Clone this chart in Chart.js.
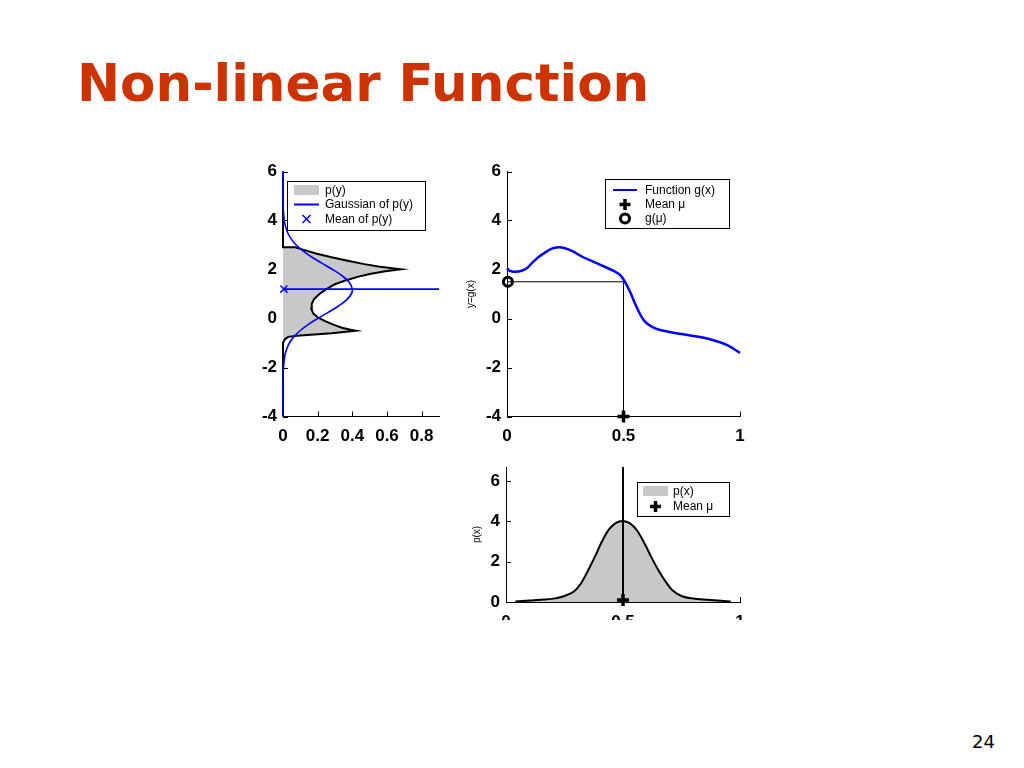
<!DOCTYPE html>
<html><head><meta charset="utf-8">
<script src="https://cdn.jsdelivr.net/npm/chart.js@4"></script>
<style>
html,body{margin:0;padding:0;background:#fff;width:1024px;height:768px;overflow:hidden;position:relative;}
#title{position:absolute;left:77px;top:58px;font-family:"DejaVu Sans";font-weight:bold;font-size:51.5px;line-height:51px;color:#cc3300;white-space:nowrap;}
#page{position:absolute;left:972px;top:733px;font-family:"DejaVu Sans";font-size:18px;line-height:18px;color:#000;}
.box{position:absolute;overflow:hidden;}
canvas{display:block;}
</style></head><body>
<div id="title">Non-linear Function</div>
<div id="page">24</div>
<div class="box" style="left:220px;top:150px;width:240px;height:300px"><canvas id="c1" width="240" height="300"></canvas></div>
<div class="box" style="left:460px;top:150px;width:300px;height:300px"><canvas id="c2" width="300" height="300"></canvas></div>
<div class="box" style="left:460px;top:450px;width:300px;height:170px"><canvas id="c3" width="300" height="170"></canvas></div>
<script>
// ---------- data: left plot, p(y) ----------
const pyY = [-4, -1.0, -0.85, -0.75, -0.7, -0.65, -0.6, -0.55, -0.5, -0.46, -0.38, -0.25, -0.1, 0.05, 0.2, 0.4, 0.6, 0.8, 1.0, 1.2, 1.4, 1.55, 1.7, 1.82, 1.93, 2.01, 2.05, 2.12, 2.22, 2.35, 2.5, 2.65, 2.82, 2.91, 2.91, 6];
const pyP = [0, 0, 0.01, 0.03, 0.08, 0.18, 0.28, 0.35, 0.42, 0.39, 0.34, 0.29, 0.24, 0.20, 0.175, 0.163, 0.166, 0.18, 0.21, 0.25, 0.30, 0.36, 0.43, 0.50, 0.59, 0.68, 0.63, 0.55, 0.47, 0.38, 0.28, 0.19, 0.11, 0.07, 0, 0];
const gaussY = [-4, -3, -2.5, -2, -1.5, -1.25, -1, -0.75, -0.5, -0.25, 0, 0.25, 0.5, 0.75, 1, 1.2, 1.5, 1.75, 2, 2.25, 2.5, 2.75, 3, 3.25, 3.5, 3.75, 4, 4.5, 5, 6];
const gaussP = [0, 0.0001, 0.0005, 0.0025, 0.011, 0.021, 0.037, 0.062, 0.098, 0.144, 0.2, 0.26, 0.318, 0.365, 0.394, 0.4, 0.38, 0.34, 0.286, 0.226, 0.167, 0.117, 0.076, 0.047, 0.027, 0.015, 0.0075, 0.0016, 0.0003, 0];
const meanY = 1.2;
const xTicks1 = [0, 0.2, 0.4, 0.6, 0.8];
const yTicks1 = [-4, -2, 0, 2, 4, 6];

// ---------- data: right top, g(x) ----------
const gX = [0, 0.013, 0.034, 0.063, 0.085, 0.106, 0.134, 0.163, 0.192, 0.22, 0.249, 0.285, 0.327, 0.37, 0.413, 0.456, 0.485, 0.506, 0.528, 0.549, 0.571, 0.592, 0.621, 0.657, 0.714, 0.8, 0.871, 0.943, 1.0];
const gY = [2.05, 1.94, 1.91, 1.95, 2.05, 2.25, 2.5, 2.69, 2.85, 2.91, 2.87, 2.73, 2.5, 2.32, 2.14, 1.95, 1.78, 1.5, 1.09, 0.62, 0.18, -0.13, -0.33, -0.47, -0.58, -0.71, -0.85, -1.08, -1.4];
const muX = 0.5;
const gMu = 1.5;
const xTicks2 = [0, 0.5, 1];
const yTicks2 = [-4, -2, 0, 2, 4, 6];

// ---------- data: right bottom, p(x) ----------
const pxX = [0.04, 0.10, 0.16, 0.21, 0.25, 0.29, 0.32, 0.35, 0.38, 0.41, 0.44, 0.47, 0.50, 0.53, 0.56, 0.59, 0.62, 0.65, 0.68, 0.71, 0.75, 0.80, 0.86, 0.92, 0.96];
const pxP = [0.02, 0.07, 0.12, 0.18, 0.30, 0.52, 0.92, 1.55, 2.25, 3.0, 3.6, 3.93, 4.02, 3.9, 3.55, 2.95, 2.25, 1.6, 1.05, 0.6, 0.3, 0.17, 0.11, 0.06, 0.02];
const pxTop = 6.7;
const xTicks3 = [0, 0.5, 1];
const yTicks3 = [0, 2, 4, 6];

const pts = (xs, ys) => xs.map((v, i) => ({x: v, y: ys[i]}));
const BLUE = '#0000ff', GRAY = '#c8c8c8';
const tickFont = {family: 'Liberation Sans', size: 17, weight: 'bold'};

// inner tick marks plugin
const innerTicks = {
  id: 'innerTicks',
  beforeDatasetsDraw(chart, args, o) {
    const {ctx, chartArea: a} = chart;
    const xs = chart.scales.x, ys = chart.scales.y;
    ctx.save(); ctx.strokeStyle = '#000'; ctx.lineWidth = 1;
    (o.x || []).forEach(v => { const p = Math.round(xs.getPixelForValue(v)) + 0.5; ctx.beginPath(); ctx.moveTo(p, a.bottom); ctx.lineTo(p, a.bottom - 5); ctx.stroke(); });
    (o.y || []).forEach(v => { const p = Math.round(ys.getPixelForValue(v)) + 0.5; ctx.beginPath(); ctx.moveTo(a.left, p); ctx.lineTo(a.left + 5, p); ctx.stroke(); });
    ctx.restore();
  }
};

// boxed legend plugin
const boxLegend = {
  id: 'boxLegend',
  afterDraw(chart, args, o) {
    if (!o || !o.items) return;
    const ctx = chart.ctx;
    const [x1, y1, x2, y2] = o.box;
    ctx.save();
    ctx.fillStyle = '#fff'; ctx.fillRect(x1, y1, x2 - x1, y2 - y1);
    ctx.strokeStyle = '#000'; ctx.lineWidth = 1; ctx.strokeRect(x1 + 0.5, y1 + 0.5, x2 - x1, y2 - y1);
    ctx.font = '12px "Liberation Sans"'; ctx.textBaseline = 'middle'; ctx.textAlign = 'left';
    o.items.forEach(it => {
      const ds = chart.data.datasets[it.ds];
      const cx = o.symX + o.symW / 2, y = it.y;
      if (it.type === 'patch') {
        ctx.fillStyle = GRAY; ctx.fillRect(o.symX, y - 5, o.symW, 10);
      } else if (it.type === 'line') {
        ctx.strokeStyle = ds.borderColor; ctx.lineWidth = 2;
        ctx.beginPath(); ctx.moveTo(o.symX, y); ctx.lineTo(o.symX + o.symW, y); ctx.stroke();
      } else if (it.type === 'crossRot') {
        ctx.strokeStyle = ds.borderColor; ctx.lineWidth = 1.5; const r = 4;
        ctx.beginPath(); ctx.moveTo(cx - r, y - r); ctx.lineTo(cx + r, y + r); ctx.moveTo(cx - r, y + r); ctx.lineTo(cx + r, y - r); ctx.stroke();
      } else if (it.type === 'cross') {
        ctx.strokeStyle = '#000'; ctx.lineWidth = 3.5; const r = 5.5;
        ctx.beginPath(); ctx.moveTo(cx - r, y); ctx.lineTo(cx + r, y); ctx.moveTo(cx, y - r); ctx.lineTo(cx, y + r); ctx.stroke();
      } else if (it.type === 'circle') {
        ctx.strokeStyle = '#000'; ctx.lineWidth = 3; ctx.beginPath(); ctx.arc(cx, y, 4.5, 0, Math.PI * 2); ctx.stroke();
      }
      ctx.fillStyle = '#000'; ctx.fillText(ds.label, o.textX, y + 0.5);
    });
    ctx.restore();
  }
};

function axes(xmin, xmax, xt, ymin, ymax, yt, yw, xh, ytitle, ytPad) {
  return {
    x: {type: 'linear', min: xmin, max: xmax,
      afterBuildTicks: s => { s.ticks = xt.map(v => ({value: v})); },
      afterFit: s => { s.height = xh; },
      grid: {display: false, drawTicks: false},
      border: {display: true, color: '#000', width: 1},
      ticks: {font: tickFont, color: '#000', padding: 10, maxRotation: 0, autoSkip: false, callback: v => String(v)}},
    y: {type: 'linear', min: ymin, max: ymax,
      afterBuildTicks: s => { s.ticks = yt.map(v => ({value: v})); },
      afterFit: s => { s.width = yw; },
      grid: {display: false, drawTicks: false},
      border: {display: true, color: '#000', width: 1},
      title: {display: !!ytitle, text: ytitle || '', color: '#000', font: {family: 'Liberation Sans', size: 10}, padding: {top: ytPad || 0, bottom: 0}},
      ticks: {font: tickFont, color: '#000', padding: 6, autoSkip: false, callback: v => String(v)}}
  };
}

const common = {responsive: false, animation: false, events: [], devicePixelRatio: 1};

// ---------- chart 1 ----------
new Chart(document.getElementById('c1'), {
  type: 'line',
  data: {datasets: [
    {label: 'p(y)', data: pts(pyP, pyY), borderColor: '#000', borderWidth: 2, backgroundColor: GRAY, fill: 'shape', pointRadius: 0, tension: 0, order: 4, clip: false},
    {label: 'Gaussian of p(y)', data: pts(gaussP, gaussY), borderColor: BLUE, borderWidth: 1.6, fill: false, pointRadius: 0, tension: 0.35, order: 3, clip: false},
    {label: 'mean line', data: [{x: 0, y: meanY}, {x: 0.9, y: meanY}], borderColor: BLUE, borderWidth: 1.6, pointRadius: 0, fill: false, order: 2, clip: false},
    {label: 'Mean of p(y)', data: [{x: 0.005, y: meanY}], borderColor: BLUE, backgroundColor: BLUE, showLine: false, pointStyle: 'crossRot', pointRadius: 5, pointBorderWidth: 1.5, order: 1, clip: false}
  ]},
  options: Object.assign({}, common, {
    layout: {padding: {top: 21.5, right: 21, left: 0, bottom: 0}},
    scales: axes(0, 0.9, xTicks1, -4, 6, yTicks1, 63, 33.5),
    plugins: {legend: {display: false}, tooltip: {enabled: false},
      innerTicks: {x: xTicks1.slice(1), y: yTicks1},
      boxLegend: {box: [67, 31, 205, 80], symX: 74, symW: 25, textX: 105,
        items: [{ds: 0, type: 'patch', y: 40}, {ds: 1, type: 'line', y: 54.5}, {ds: 3, type: 'crossRot', y: 69}]}}
  }),
  plugins: [innerTicks, boxLegend]
});

// ---------- chart 2 ----------
new Chart(document.getElementById('c2'), {
  type: 'line',
  data: {datasets: [
    {label: 'Function g(x)', data: pts(gX, gY), borderColor: BLUE, borderWidth: 2.5, fill: false, pointRadius: 0, tension: 0.35, order: 3, clip: false},
    {label: 'Mean μ', data: [{x: muX, y: -4}], borderColor: '#000', backgroundColor: '#000', showLine: false, pointStyle: 'cross', pointRadius: 6, pointBorderWidth: 3.5, order: 1, clip: false},
    {label: 'g(μ)', data: [{x: 0.004, y: gMu}], borderColor: '#000', backgroundColor: 'rgba(0,0,0,0)', showLine: false, pointStyle: 'circle', pointRadius: 4.5, pointBorderWidth: 3, order: 1, clip: false},
    {label: 'h', data: [{x: 0, y: gMu}, {x: muX, y: gMu}], borderColor: '#000', borderWidth: 1, pointRadius: 0, fill: false, order: 4},
    {label: 'v', data: [{x: muX, y: -4}, {x: muX, y: gMu}], borderColor: '#000', borderWidth: 1, pointRadius: 0, fill: false, order: 4}
  ]},
  options: Object.assign({}, common, {
    layout: {padding: {top: 21.5, right: 20, left: 0, bottom: 0}},
    scales: axes(0, 1, xTicks2, -4, 6, yTicks2, 47, 33.5, 'y=g(x)', 5),
    plugins: {legend: {display: false}, tooltip: {enabled: false},
      innerTicks: {x: xTicks2.slice(1), y: yTicks2},
      boxLegend: {box: [145, 29, 269, 78], symX: 153, symW: 24, textX: 185,
        items: [{ds: 0, type: 'line', y: 40}, {ds: 1, type: 'cross', y: 54.5}, {ds: 2, type: 'circle', y: 68.5}]}}
  }),
  plugins: [innerTicks, boxLegend]
});

// ---------- chart 3 ----------
new Chart(document.getElementById('c3'), {
  type: 'line',
  data: {datasets: [
    {label: 'p(x)', data: pts(pxX, pxP), borderColor: '#000', borderWidth: 2, backgroundColor: GRAY, fill: 'origin', pointRadius: 0, tension: 0.3, order: 3},
    {label: 'Mean μ', data: [{x: muX, y: 0.1}], borderColor: '#000', backgroundColor: '#000', showLine: false, pointStyle: 'cross', pointRadius: 6, pointBorderWidth: 3.5, order: 1, clip: false},
    {label: 'v', data: [{x: muX, y: 0}, {x: muX, y: pxTop}], borderColor: '#000', borderWidth: 2, pointRadius: 0, fill: false, order: 2, clip: false}
  ]},
  options: Object.assign({}, common, {
    layout: {padding: {top: 17, right: 20, left: 0, bottom: 0}},
    scales: axes(0, 1, xTicks3, 0, pxTop, yTicks3, 46, 18, 'p(x)', 11),
    plugins: {legend: {display: false}, tooltip: {enabled: false},
      innerTicks: {x: xTicks3.slice(1), y: yTicks3},
      boxLegend: {box: [177, 32, 269, 66], symX: 183, symW: 25, textX: 213,
        items: [{ds: 0, type: 'patch', y: 41}, {ds: 1, type: 'cross', y: 56.5}]}}
  }),
  plugins: [innerTicks, boxLegend]
});
</script>
</body></html>
